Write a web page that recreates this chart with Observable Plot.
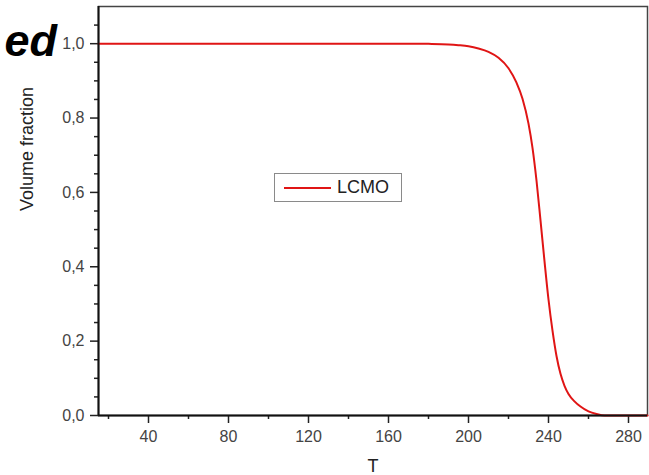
<!DOCTYPE html>
<html>
<head>
<meta charset="utf-8">
<script src="https://cdn.jsdelivr.net/npm/d3@7"></script>
<script src="https://cdn.jsdelivr.net/npm/@observablehq/plot@0.6"></script>
<style>
  html, body { margin: 0; padding: 0; background: #fff; }
  #wrap { position: relative; width: 649px; height: 475px; font-family: "Liberation Sans", Arial, sans-serif; }
  #cut { position: absolute; right: 592px; top: 18px; font-size: 45px; font-weight: bold; font-style: italic; color: #000; line-height: 1; white-space: nowrap; }
  #legend { position: absolute; left: 274px; top: 173px; width: 126px; height: 27px; border: 1.5px solid #8a8a8a; background: #fff; box-sizing: content-box; }
  #legend .sw { position: absolute; left: 9px; top: 13px; width: 47px; height: 2px; background: #e01515; }
  #legend .tx { position: absolute; left: 62px; top: 4px; font-size: 18px; color: #222; line-height: 1; }
</style>
</head>
<body>
<div id="wrap">
  <div id="chart"></div>
  <div id="cut">ed</div>
  <div id="legend"><div class="sw"></div><div class="tx">LCMO</div></div>
</div>
<script>
// Data
const temperature = [15, 40, 80, 120, 160, 170, 180, 190, 195, 200, 205, 210, 215, 220, 224, 227, 230, 232, 234, 236, 238, 240, 242, 244, 246, 248, 250, 253, 256, 260, 264, 268, 275, 289.5];
const volumeFraction = [1, 1, 1, 1, 1, 1, 0.9995, 0.998, 0.996, 0.993, 0.987, 0.978, 0.962, 0.934, 0.895, 0.852, 0.785, 0.72, 0.632, 0.525, 0.415, 0.312, 0.228, 0.16, 0.112, 0.08, 0.058, 0.038, 0.024, 0.011, 0.004, 0, 0, 0];
const xMajorTicks = [40, 80, 120, 160, 200, 240, 280];
const xMinorTicks = [20, 60, 100, 140, 180, 220, 260];
const yMajorTicks = [0, 0.2, 0.4, 0.6, 0.8, 1.0];
const yMinorTicks = [0.05, 0.1, 0.15, 0.25, 0.3, 0.35, 0.45, 0.5, 0.55, 0.65, 0.7, 0.75, 0.85, 0.9, 0.95, 1.05];
const xDomain = [15, 289.5];
const yDomain = [0, 1.1];
const seriesName = "LCMO";
const xLabel = "T";
const yLabel = "Volume fraction";

const commaFmt = d => d.toFixed(1).replace(".", ",");

const chart = Plot.plot({
  width: 649,
  height: 475,
  marginLeft: 98,
  marginRight: 2,
  marginTop: 6,
  marginBottom: 60,
  style: {fontFamily: "Liberation Sans, Arial, sans-serif", color: "#222", background: "#fff"},
  x: {domain: xDomain},
  y: {domain: yDomain},
  marks: [
    Plot.frame({stroke: "#444", strokeWidth: 1.5}),
    Plot.axisX(xMajorTicks, {tickSize: 8, tickPadding: 7, fontSize: 16, fill: "#444", stroke: "#222", strokeWidth: 1.5, label: null, tickFormat: d => String(d)}),
    Plot.axisX(xMinorTicks, {tickSize: 4, stroke: "#222", strokeWidth: 1.5, label: null, tickFormat: () => ""}),
    Plot.axisY(yMajorTicks, {tickSize: 8, tickPadding: 6, fontSize: 16, fill: "#444", stroke: "#222", strokeWidth: 1.5, label: null, tickFormat: commaFmt}),
    Plot.axisY(yMinorTicks, {tickSize: 4, stroke: "#222", strokeWidth: 1.5, label: null, tickFormat: () => ""}),
    Plot.line(volumeFraction, {x: temperature, y: volumeFraction, stroke: "#e01515", strokeWidth: 2, curve: "monotone-x"}),
    Plot.ruleX([xDomain[0]], {stroke: "#111", strokeWidth: 2}),
    Plot.ruleY([0], {stroke: "#111", strokeWidth: 2}),
    Plot.text([xLabel], {frameAnchor: "bottom", dy: 51, lineAnchor: "middle", fontSize: 18, fill: "#222"}),
    Plot.text([yLabel], {frameAnchor: "left", dx: -71, rotate: -90, lineAnchor: "middle", fontSize: 18, fill: "#222"})
  ]
});
document.getElementById("chart").appendChild(chart);
document.querySelector("#legend .tx").textContent = seriesName;
</script>
</body>
</html>
